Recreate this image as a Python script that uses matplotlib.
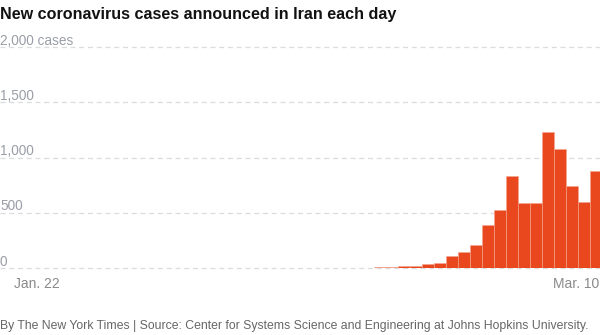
import matplotlib
matplotlib.use('Agg')
import matplotlib.pyplot as plt
import numpy as np

# daily new cases, Jan. 22 .. Mar. 10 (49 days)
first_case_day = 28  # Feb. 19
late_cases = [2, 3, 13, 10, 15, 18, 34, 44, 106, 143, 205, 385, 523, 835,
              586, 591, 1234, 1076, 743, 595, 881]
cases = [0] * first_case_day + late_cases
y_ticks = [0, 500, 1000, 1500, 2000]
y_labels = ['0', '500', '1,000', '1,500', '2,000 cases']
x_labels = ['Jan. 22', 'Mar. 10']

title = 'New coronavirus cases announced in Iran each day'
footer = ('By The New York Times | Source: Center for Systems Science and '
          'Engineering at Johns Hopkins University.')

W, H = 600, 335
fig = plt.figure(figsize=(W / 100, H / 100), dpi=100)
plt.rcParams['font.family'] = ['Liberation Sans', 'DejaVu Sans']


def fy(p):
    return 1 - p / H


y0, y1 = 268, 47
ax = fig.add_axes([0, fy(y0), 1, fy(y1) - fy(y0)])
ax.set_xlim((0 - 20) / 12, (W - 20) / 12)
ax.set_ylim(0, 2000)
ax.axis('off')

days = np.arange(len(cases))
ax.bar(days, cases, width=0.93, color='#e9481f', edgecolor='#f5a58f',
       linewidth=0.4, zorder=3)

for v, lab in zip(y_ticks, y_labels):
    ax.axhline(v, color='#dcdcdc', lw=0.9, ls=(0, (4, 3)), clip_on=False, zorder=1)
    ax.text(-20 / 12, v - 5, lab, ha='left', va='bottom', fontsize=9.8,
            color='#9a9ea6')

fig.text(14 / W, fy(284), x_labels[0], ha='left', va='center', fontsize=10,
         color='#8a8a8a')
fig.text(599 / W, fy(284), x_labels[1], ha='right', va='center', fontsize=10,
         color='#8a8a8a')

fig.text(0, fy(15), title, ha='left', va='center', fontsize=11.6,
         fontweight='bold', color='#121212')
fig.text(0, fy(326), footer, ha='left', va='center', fontsize=8.85,
         color='#666666', family=['Liberation Sans Narrow', 'Liberation Sans'])

fig.savefig('out.png', dpi=100)
